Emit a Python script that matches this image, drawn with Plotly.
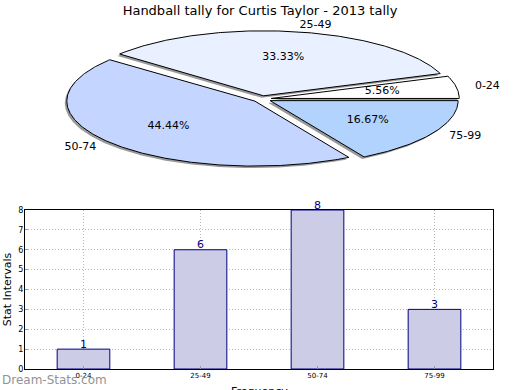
import numpy as np
import plotly.graph_objects as go

# ---- data ----
categories = ["0-24", "25-49", "50-74", "75-99"]
counts = [1, 6, 8, 3]
slice_colors = ["#ffffff", "#e9f0ff", "#c4d6ff", "#b3d3ff"]
title = "Handball tally for Curtis Taylor - 2013 tally"
x_title = "Frequency"
y_title = "Stat Intervals"
y_ticks = [0, 1, 2, 3, 4, 5, 6, 7, 8]

W, H = 520, 390
FONT = "DejaVu Sans"

fig = go.Figure()

# ---- pie geometry (pixel space, on a hidden overlay axis) ----
cx, cy = 262.0, 99.0
rx, ry = 188.0, 65.0
explode = 0.05
total = float(sum(counts))
fracs = [c / total for c in counts]

angles = np.cumsum([0.0] + [f * 360.0 for f in fracs])

def wedge(a0, a1, ox, oy):
    t = np.radians(np.linspace(a0, a1, max(8, int(abs(a1 - a0)) * 2)))
    xs = np.concatenate([[ox], ox + rx * np.cos(t), [ox]])
    ys = np.concatenate([[oy], oy - ry * np.sin(t), [oy]])
    return xs, ys

offsets = []
for i in range(len(counts)):
    a0, a1 = angles[i], angles[i + 1]
    mid = np.radians((a0 + a1) / 2)
    ox = cx + explode * rx * np.cos(mid)
    oy = cy - explode * ry * np.sin(mid)
    offsets.append((ox, oy, mid))

# shadows
for i in range(len(counts)):
    ox, oy, mid = offsets[i]
    xs, ys = wedge(angles[i], angles[i + 1], ox - 2, oy + 2)
    fig.add_trace(go.Scatter(x=xs, y=ys, mode="lines", fill="toself",
                             fillcolor="rgba(110,110,110,0.7)",
                             line=dict(width=0, color="rgba(0,0,0,0)"),
                             xaxis="x2", yaxis="y2", hoverinfo="skip",
                             showlegend=False))
# wedges
for i in range(len(counts)):
    ox, oy, mid = offsets[i]
    xs, ys = wedge(angles[i], angles[i + 1], ox, oy)
    fig.add_trace(go.Scatter(x=xs, y=ys, mode="lines", fill="toself",
                             fillcolor=slice_colors[i],
                             line=dict(width=1, color="#000000"),
                             xaxis="x2", yaxis="y2", hoverinfo="skip",
                             showlegend=False))

# percentage labels and category labels
px, py, ptxt = [], [], []
lx, ly, ltxt, lpos = [], [], [], []
for i in range(len(counts)):
    ox, oy, mid = offsets[i]
    px.append(ox + 0.6 * rx * np.cos(mid))
    py.append(oy - 0.6 * ry * np.sin(mid))
    ptxt.append(f"{fracs[i] * 100:.2f}%")
    lx.append(ox + 1.1 * rx * np.cos(mid))
    ly.append(oy - 1.1 * ry * np.sin(mid))
    ltxt.append(categories[i])
    lpos.append("middle right" if np.cos(mid) >= 0 else "middle left")

fig.add_trace(go.Scatter(x=px, y=py, text=ptxt, mode="text",
                         textposition="middle center",
                         textfont=dict(family=FONT, size=11, color="#000000"),
                         xaxis="x2", yaxis="y2", hoverinfo="skip",
                         showlegend=False, cliponaxis=False))
fig.add_trace(go.Scatter(x=lx, y=ly, text=ltxt, mode="text",
                         textposition=lpos,
                         textfont=dict(family=FONT, size=11, color="#000000"),
                         xaxis="x2", yaxis="y2", hoverinfo="skip",
                         showlegend=False, cliponaxis=False))

# ---- bar chart ----
fig.add_trace(go.Bar(x=categories, y=counts, width=0.45,
                     marker=dict(color="#ccccE6", line=dict(color="#000080", width=1)),
                     showlegend=False, hoverinfo="skip"))

annotations = []
for c, v in zip(categories, counts):
    annotations.append(dict(x=c, y=v, xref="x", yref="y", text=str(v),
                            showarrow=False, yanchor="middle", yshift=5,
                            font=dict(family=FONT, size=11, color="#000080")))
annotations.append(dict(text=x_title, x=(25 + 493) / 2 / W, y=(H - 383) / H,
                        xref="paper", yref="paper", xanchor="center", yanchor="top",
                        showarrow=False,
                        font=dict(family=FONT, size=11, color="#000000")))
annotations.append(dict(text="Dream-Stats.com", x=0, y=(H - 380) / H,
                        xref="paper", yref="paper", xanchor="left", yanchor="middle",
                        showarrow=False,
                        font=dict(family=FONT, size=12, color="#939393")))

grid = dict(showgrid=True, gridcolor="#b8b8b8", griddash="1px,2px", gridwidth=1,
            showline=True, linecolor="#000000", linewidth=1, mirror=True,
            ticks="inside", ticklen=3, tickcolor="#999999",
            zeroline=False, fixedrange=True, automargin=False)

fig.update_layout(
    width=W, height=H,
    margin=dict(l=0, r=0, t=0, b=0, autoexpand=False),
    paper_bgcolor="white", plot_bgcolor="rgba(0,0,0,0)",
    font=dict(family=FONT, color="#000000"),
    title=dict(text=title, x=0.5, xanchor="center", y=1 - 10 / H, yanchor="middle",
               font=dict(family=FONT, size=13, color="#000000"), automargin=False),
    xaxis=dict(domain=[25 / W, 493 / W], range=[-0.5, 3.5],
               tickfont=dict(family=FONT, size=7, color="#000000"),
               **grid),
    yaxis=dict(domain=[(H - 369) / H, (H - 210) / H], range=[0, 8],
               tickvals=y_ticks, ticklabelstandoff=-1,
               tickfont=dict(family=FONT, size=8, color="#000000"),
               title=dict(text=y_title, font=dict(family=FONT, size=11), standoff=4),
               **grid),
    xaxis2=dict(domain=[0, 1], range=[0, W], visible=False, fixedrange=True,
                anchor="y2", automargin=False),
    yaxis2=dict(domain=[0, 1], range=[H, 0], visible=False, fixedrange=True,
                anchor="x2", automargin=False),
    annotations=annotations,
)

fig.write_html("out.html",
               config={"displayModeBar": False},
               post_script="document.body.style.margin='0';"
                           "document.body.style.padding='0';"
                           "document.body.style.overflow='hidden';")
